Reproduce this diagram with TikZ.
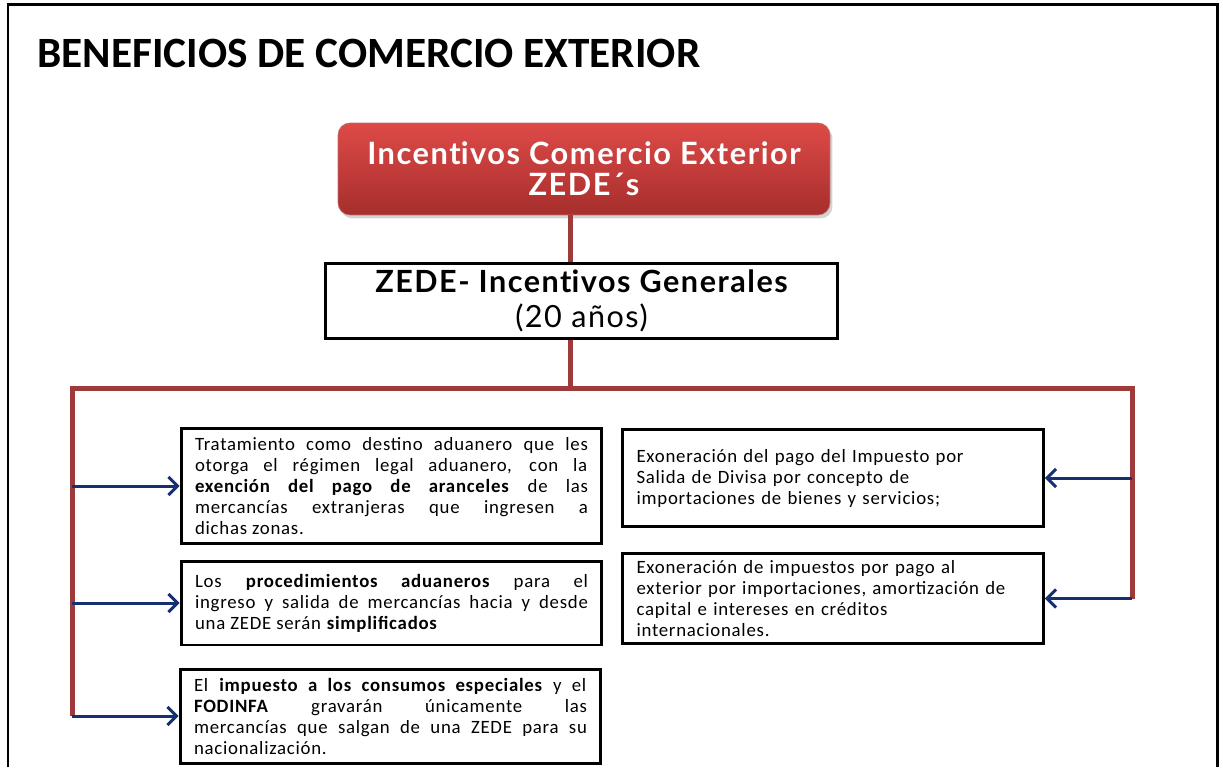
\documentclass[tikz,border=0pt]{standalone}
\usepackage{fontspec}
\setmainfont{Carlito}[LetterSpace=4]
\newfontfamily\titlefont{Carlito}
\newfontfamily\gillfont{Lato}[LetterSpace=5,Ligatures=NoCommon]
\usetikzlibrary{arrows.meta,shadows}
\definecolor{zedetop}{RGB}{222,74,72}
\definecolor{zedebot}{RGB}{166,46,44}
\definecolor{trunkred}{RGB}{158,58,58}
\definecolor{arrowblue}{RGB}{22,48,112}
\hyphenpenalty=10000
\newcommand\incent{Incent\kern0pt ivos}
\tikzset{
  headbox/.style={rounded corners=0.24cm,top color=zedetop,bottom color=zedebot,
    draw=zedebot!70!white,drop shadow={shadow xshift=0.05cm,shadow yshift=-0.07cm,opacity=0.35},
    minimum width=9.84cm,minimum height=1.84cm,text=white,align=center,
    font=\gillfont\bfseries\fontsize{17.5}{17.5}\selectfont},
  genbox/.style={draw,line width=0.06cm,minimum width=10.26cm,minimum height=1.5cm,
    align=center,font=\gillfont\fontsize{17.4}{19.5}\selectfont},
  leafbox/.style={draw,line width=0.06cm,inner xsep=0.28cm,text width=7.86cm,
    align=justify,font=\fontsize{10.7}{11.95}\selectfont},
  trunkline/.style={trunkred,line width=0.1cm},
  branch/.style={arrowblue,line width=0.06cm,-{Straight Barb[length=0.18cm,width=0.36cm]}},
}

\begin{document}
\begin{tikzpicture}[x=0.02cm,y=-0.02cm]
\useasboundingbox (0,0) rectangle (1223,767);
\draw[line width=0.06cm] (8,767) -- (8,5) -- (1217,5) -- (1217,767);
\node[anchor=base west,inner sep=0pt,font=\titlefont\bfseries\fontsize{24.6}{25}\selectfont] (title)
  at (37,68) {BENEFICIOS DE COMERCIO EXTERIOR};

\node[headbox] (incent) at (584,169) {\incent{} Comercio Exterior\\ZEDE´s};
\node[genbox] (gen) at (581.5,301) {\bfseries ZEDE- \incent{} Generales\\(20 años)};

% left column
\node[leafbox,minimum height=2.32cm] (trat) at (391.5,486)
  {Tratamiento como destino aduanero que les\linebreak otorga el régimen legal aduanero, con la\linebreak
   \textbf{exención del pago de aranceles} de las\linebreak mercancías extranjeras que ingresen a\linebreak
   dichas zonas.};
\node[leafbox,minimum height=1.68cm] (proc) at (391.5,603)
  {Los \textbf{procedimientos aduaneros} para el\linebreak ingreso y salida de mercancías hacia y
   desde\linebreak una ZEDE serán \textbf{simplificados}};
\node[leafbox,minimum height=1.88cm] (impto) at (390.5,716)
  {El \textbf{impuesto a los consumos especiales} y el\linebreak \textbf{FODINFA} gravarán
   únicamente las\linebreak mercancías que salgan de una ZEDE para su\linebreak nacionalización.};

% right column
\node[leafbox,align=left,minimum height=1.96cm] (divisa) at (833,478)
  {Exoneración del pago del Impuesto por\\Salida de Divisa por concepto de\\importaciones
   de bienes y servicios;};
\node[leafbox,align=left,minimum height=1.82cm] (exter) at (833,598.5)
  {Exoneración de impuestos por pago al\\exterior por importaciones, amortización de\\capital
   e intereses en créditos\\internacionales.};

\coordinate (trunk) at (570,388);
\coordinate (busL) at (72,388);
\coordinate (busR) at (1132,388);

\draw[trunkline] (trunk |- incent.south) -- (trunk |- gen.north);
\draw[trunkline] (trunk |- gen.south) -- (trunk);
\draw[trunkline] (busL |- impto.west) -- (busL) -- (busR) -- (busR |- exter.east);
\foreach \leaf in {trat,proc,impto}
  \draw[branch] (busL |- \leaf.west) -- (\leaf.west);
\foreach \leaf in {divisa,exter}
  \draw[branch] (busR |- \leaf.east) -- (\leaf.east);
\end{tikzpicture}
\end{document}
